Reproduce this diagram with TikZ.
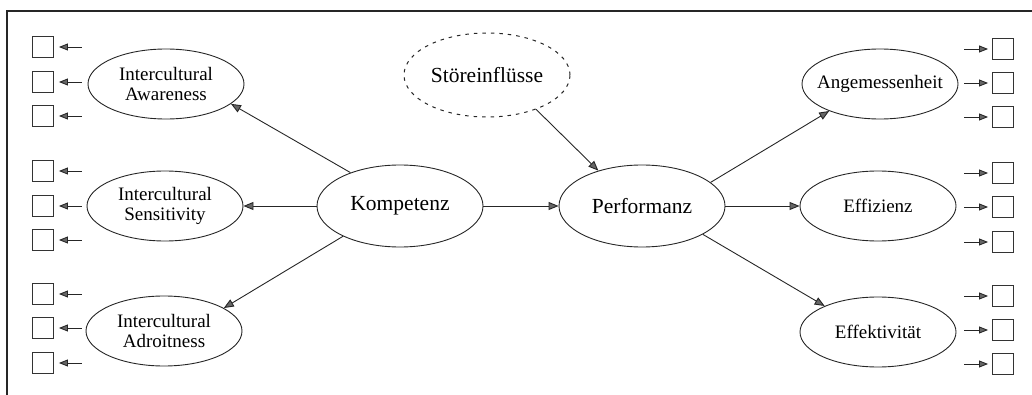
\documentclass[tikz,border=0pt]{standalone}
\usepackage{fontspec}
\setmainfont{Liberation Serif}
\usetikzlibrary{arrows.meta,shapes.geometric}
\tikzset{
  ell/.style={draw=black!85, line width=0.9pt, ellipse, inner sep=0pt, minimum width=156pt, minimum height=70pt, align=center, font=\fontsize{19}{19.5}\selectfont},
  bigell/.style={ell, minimum width=166pt, minimum height=82pt, font=\fontsize{21.5}{23}\selectfont},
  sq/.style={draw=black!80, line width=0.9pt, minimum width=21pt, minimum height=21pt, inner sep=0pt},
  arr/.style={draw=black!85, line width=0.9pt, -{Triangle[length=10pt,width=8pt,fill=black!60]}},
  sarr/.style={draw=black!85, line width=0.9pt, -{Triangle[length=9pt,width=7pt,fill=black!60]}},
  frame/.style={draw=black!85, line width=1.4pt}
}
\begin{document}
\begin{tikzpicture}[x=1pt,y=-1pt]
\useasboundingbox (0,0) rectangle (1032,395);
% frame
\coordinate (ftr) at (1032,11);
\coordinate (ftl) at (7,11);
\coordinate (fbl) at (7,395);
\draw[frame] (ftr) -- (ftl) -- (fbl);
% ellipses
\node[ell] (aw) at (166,84) {Intercultural\\Awareness};
\node[ell] (se) at (165,206) {Intercultural\\Sensitivity};
\node[ell] (ad) at (164,331) {Intercultural\\Adroitness};
\node[bigell] (ko) at (400,206) {Kompetenz};
\node[bigell] (pe) at (642,206) {Performanz};
\node[bigell, dash pattern=on 3.5pt off 5pt, line width=1pt, minimum height=84pt] (st) at (487,75) {Störeinflüsse};
\node[ell, inner xsep=-9pt] (an) at (880,84) {Angemessenheit};
\node[ell] (ef) at (878,206) {Effizienz};
\node[ell] (ek) at (878,332) {Effektivität};
% connectors
\draw[arr] (ko.146) -- (aw.-17);
\draw[arr] (ko.west) -- (se.east);
\draw[arr] (ko.208) -- (ad.21);
\draw[arr] (ko.east) -- (pe.west);
\draw[arr] (st.-35) -- (pe.141);
\draw[arr] (pe.19) -- (an.208);
\draw[arr] (pe.east) -- (ef.west);
\draw[arr] (pe.-25) -- (ek.154);
% left indicator squares
\foreach \i/\y in {1/47,2/82,3/116,4/171,5/206,6/240,7/294,8/328,9/363}{
  \node[sq] (L\i) at (43,\y) {};
  \draw[sarr] ([xshift=28pt]L\i.east) -- ([xshift=5pt]L\i.east);
}
% right indicator squares
\foreach \i/\y in {1/49,2/83,3/117,4/173,5/207,6/242,7/296,8/330,9/364}{
  \node[sq] (R\i) at (1003,\y) {};
  \draw[sarr] ([xshift=-28pt]R\i.west) -- ([xshift=-4pt]R\i.west);
}
\end{tikzpicture}
\end{document}
